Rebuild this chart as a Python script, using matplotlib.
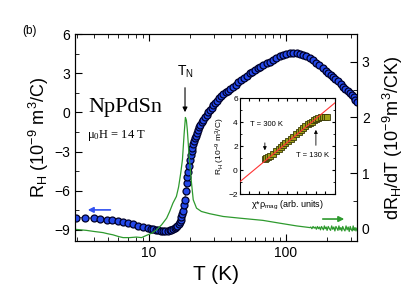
import matplotlib
matplotlib.use("Agg")
import matplotlib.pyplot as plt
from matplotlib.ticker import MultipleLocator, FixedLocator, NullFormatter

plt.rcParams['font.family'] = 'Liberation Sans'
plt.rcParams['mathtext.default'] = 'regular'

# Hall coefficient R_H (10^-9 m^3/C) vs T (K)
T_rh = [2.93, 3.41, 3.97, 4.44, 4.96, 5.43, 5.97, 6.49, 7.06, 7.68,
        8.36, 9.08, 9.88, 10.3, 10.7, 11.2, 11.7, 12.2, 12.7, 13.2,
        13.8, 14.2, 14.6, 15.0, 15.5, 15.8, 16.1, 16.5, 16.8, 17.1,
        17.3, 17.6, 17.8, 18.1, 18.3, 18.6, 18.9, 19.1, 19.3, 19.6,
        19.9, 20.2, 20.5, 20.8, 21.1, 21.4, 21.7, 22.0, 22.4, 22.9,
        23.3, 23.8, 24.3, 24.9, 25.6, 26.4, 27.1, 27.9, 28.7, 29.5,
        30.3, 31.4, 32.6, 33.8, 35.0, 36.4, 37.8, 39.4, 41.2, 43.0,
        45.0, 47.0, 49.3, 51.8, 54.6, 57.0, 59.5, 62.2, 65.0, 68.5,
        72.3, 76.0, 80.0, 84.5, 90.3, 95.5, 101, 107, 113, 120,
        127, 134, 141, 149, 158, 166, 176, 187, 196, 204,
        212, 221, 230, 240, 251, 262, 272, 282, 292, 302,
        312, 322, 331]
rh = [-8.06, -8.08, -8.11, -8.16, -8.21, -8.27, -8.34, -8.39, -8.46, -8.57,
      -8.67, -8.77, -8.85, -8.90, -8.95, -8.99, -9.03, -9.06, -9.08, -9.08,
      -9.05, -9.02, -8.98, -8.92, -8.85, -8.77, -8.67, -8.55, -8.42, -8.25,
      -8.04, -7.80, -7.52, -7.10, -6.68, -6.05, -5.40, -4.95, -4.56, -4.10,
      -3.64, -3.25, -2.98, -2.72, -2.45, -2.22, -2.00, -1.80, -1.58, -1.35,
      -1.15, -0.96, -0.76, -0.58, -0.39, -0.20, -0.01, 0.18, 0.36, 0.53,
      0.70, 0.89, 1.08, 1.23, 1.38, 1.53, 1.67, 1.82, 1.97, 2.13,
      2.30, 2.47, 2.65, 2.82, 2.99, 3.12, 3.25, 3.37, 3.49, 3.62,
      3.76, 3.88, 4.01, 4.15, 4.35, 4.43, 4.50, 4.55, 4.57, 4.55,
      4.48, 4.38, 4.28, 4.16, 4.01, 3.82, 3.60, 3.38, 3.17, 3.00,
      2.87, 2.73, 2.55, 2.37, 2.17, 1.97, 1.80, 1.65, 1.48, 1.33,
      1.16, 0.98, 0.82]

# derivative dR_H/dT (10^-9 m^3/CK)
T_d = [2.88, 3.51, 4.0, 4.63, 5.0, 5.48, 6.0, 6.49, 7.26, 8.13,
       8.85, 9.62, 10.5, 11.4, 12.4, 13.5, 14.2, 15.0, 15.9, 16.5,
       17.1, 17.6, 18.1, 18.5, 18.8, 19.1, 19.7, 20.5, 21.1, 22.3,
       24.2, 27.8, 34.9, 46, 68, 90, 120, 150,
       152, 155, 158, 161, 164, 167, 170, 173, 176, 179,
       182, 185, 188, 191, 194, 197, 200, 204, 208, 212,
       216, 220, 224, 228, 232, 236, 240, 244, 248, 252,
       256, 260, 265, 270, 275, 280, 285, 290, 295, 300,
       305, 310, 315, 320, 325, 330]
drdt = [-0.01, -0.03, -0.05, -0.07, -0.09, -0.11, -0.14, -0.16, -0.16, -0.15,
        -0.16, -0.12, -0.08, -0.02, 0.07, 0.19, 0.31, 0.46, 0.58, 0.75,
        1.00, 1.24, 1.70, 2.00, 1.95, 1.78, 1.30, 0.82, 0.52, 0.37,
        0.31, 0.27, 0.22, 0.19, 0.15, 0.10, 0.05, 0.02,
        0.03, 0.00, 0.04, 0.01, 0.03, -0.01, 0.04, 0.00, 0.03, -0.02,
        0.04, 0.01, -0.02, 0.05, 0.00, 0.03, -0.03, 0.04, 0.00, -0.03,
        0.05, -0.01, 0.03, -0.04, 0.04, 0.01, -0.03, 0.05, -0.02, 0.02,
        -0.04, 0.04, -0.01, -0.04, 0.05, -0.02, 0.03, -0.05, 0.04, -0.01,
        -0.04, 0.05, -0.03, 0.02, -0.04, 0.01]

# inset: R_H vs chi*rho_mag (130 K .. 300 K)
chi_rho = [0.263, 0.28, 0.30, 0.32, 0.351, 0.38, 0.41, 0.435, 0.456, 0.48,
           0.51, 0.535, 0.561, 0.59, 0.62, 0.645, 0.666, 0.69, 0.715, 0.735,
           0.754, 0.775, 0.80, 0.825, 0.85, 0.875, 0.895, 0.912]
rh_inset = [0.89, 0.97, 1.08, 1.19, 1.37, 1.56, 1.76, 1.93, 2.07, 2.23,
            2.42, 2.59, 2.77, 2.97, 3.17, 3.34, 3.48, 3.65, 3.81, 3.93,
            4.04, 4.14, 4.23, 4.33, 4.40, 4.43, 4.45, 4.46]
fit_x = [0.0, 1.0]
fit_y = [-0.97, 5.6]

fig = plt.figure(figsize=(4.15, 2.91), dpi=100)
ax = fig.add_axes([0.181, 0.172, 0.679, 0.711])

ax.plot(T_rh, rh, '-', color='#222222', lw=0.6, marker='o', ms=5,
        mfc='#2448e8', mec='#000028', mew=0.9, zorder=3)
ax.set_xscale('log')
ax.set_xlim(2.9, 330)
ax.set_ylim(-9.85, 6)
ax.set_yticks([-9, -6, -3, 0, 3, 6])
ax.yaxis.set_minor_locator(MultipleLocator(1.5))
ax.set_xticks([10, 100])
ax.set_xticklabels(['10', '100'])
ax.xaxis.set_minor_locator(FixedLocator([3, 4, 5, 6, 7, 8, 9, 20, 30, 40, 50, 60, 70, 80, 90, 200, 300]))
ax.xaxis.set_minor_formatter(NullFormatter())
ax.tick_params(which='both', direction='in', top=True, right=False, labelsize=10)
ax.tick_params(which='major', length=5)
ax.tick_params(which='minor', length=3)
ax.set_xlabel('T (K)', fontsize=15)
ax.xaxis.set_label_coords(0.5, -0.116)
ax.set_ylabel('R$_H$ (10$^{-9}$ m$^3$/C)', fontsize=13)
ax.yaxis.set_label_coords(-0.085, 0.5)

ax2 = ax.twinx()
ax2.plot(T_d, drdt, '-', color='#2e9a2e', lw=0.9)
ax2.set_ylim(-0.22, 3.5)
ax2.set_yticks([0, 1, 2, 3])
ax2.yaxis.set_minor_locator(MultipleLocator(0.5))
ax2.tick_params(which='both', direction='in', labelsize=10)
ax2.tick_params(which='major', length=5)
ax2.tick_params(which='minor', length=3)
ax2.set_ylabel('dR$_H$/dT (10$^{-9}$m$^3$/CK)', fontsize=13)
ax2.yaxis.set_label_coords(1.085, 0.5)

# annotations
ax2.annotate('', xy=(0.035, 0.150), xytext=(0.135, 0.150), xycoords='axes fraction',
             arrowprops=dict(arrowstyle='-|>', color='#3050f0', lw=1.2, mutation_scale=8))
ax2.annotate('', xy=(0.965, 0.106), xytext=(0.869, 0.106), xycoords='axes fraction',
             arrowprops=dict(arrowstyle='-|>', color='#2e9a2e', lw=1.2, mutation_scale=8))
ax2.annotate('', xy=(0.390, 0.609), xytext=(0.390, 0.754), xycoords='axes fraction',
             arrowprops=dict(arrowstyle='-|>', color='black', lw=0.8, mutation_scale=7))
ax2.text(0.390, 0.816, 'T$_N$', transform=ax.transAxes, ha='center', va='center', fontsize=10)
ax2.text(0.046, 0.643, 'NpPdSn', transform=ax.transAxes, ha='left', va='center',
         fontsize=16, family='Liberation Serif')
ax2.text(0.043, 0.512, 'μ$_0$H = 14 T', transform=ax.transAxes, ha='left', va='center',
         fontsize=9, family='Liberation Serif')
fig.text(0.072, 0.893, '(b)', ha='center', va='center', fontsize=8.5)

# inset
axi = fig.add_axes([0.578, 0.333, 0.229, 0.330])
axi.set_zorder(5)
axi.plot(chi_rho, rh_inset, 's', ms=4, mfc='#a0a018', mec='#3a3a08', mew=0.6, zorder=2)
axi.plot(fit_x, fit_y, '-', color='#ff3333', lw=0.8, zorder=3)
axi.set_xlim(0, 1)
axi.set_ylim(-2, 6)
axi.set_yticks([-2, 0, 2, 4, 6])
axi.yaxis.set_minor_locator(MultipleLocator(1))
axi.xaxis.set_major_locator(MultipleLocator(0.1))
axi.set_xticklabels([])
axi.tick_params(which='both', direction='in', top=True, right=True, labelsize=6, pad=1.5)
axi.tick_params(which='major', length=2.5)
axi.tick_params(which='minor', length=1.5)
axi.set_xlabel('χ*ρ$_{mag}$ (arb. units)', fontsize=6.5, labelpad=2)
axi.set_ylabel('R$_H$ (10$^{-9}$ m$^3$/C)', fontsize=6, labelpad=1)
axi.annotate('', xy=(0.263, 0.427), xytext=(0.263, 0.5625), xycoords='axes fraction',
             arrowprops=dict(arrowstyle='-|>', color='black', lw=0.6, mutation_scale=5))
axi.text(0.284, 0.729, 'T = 300 K', transform=axi.transAxes, ha='center', va='center', fontsize=5.5)
axi.annotate('', xy=(0.80, 0.698), xytext=(0.80, 0.479), xycoords='axes fraction',
             arrowprops=dict(arrowstyle='-|>', color='black', lw=0.6, mutation_scale=5))
axi.text(0.768, 0.40, 'T = 130 K', transform=axi.transAxes, ha='center', va='center', fontsize=5.5)

fig.savefig('out.png', dpi=100)
